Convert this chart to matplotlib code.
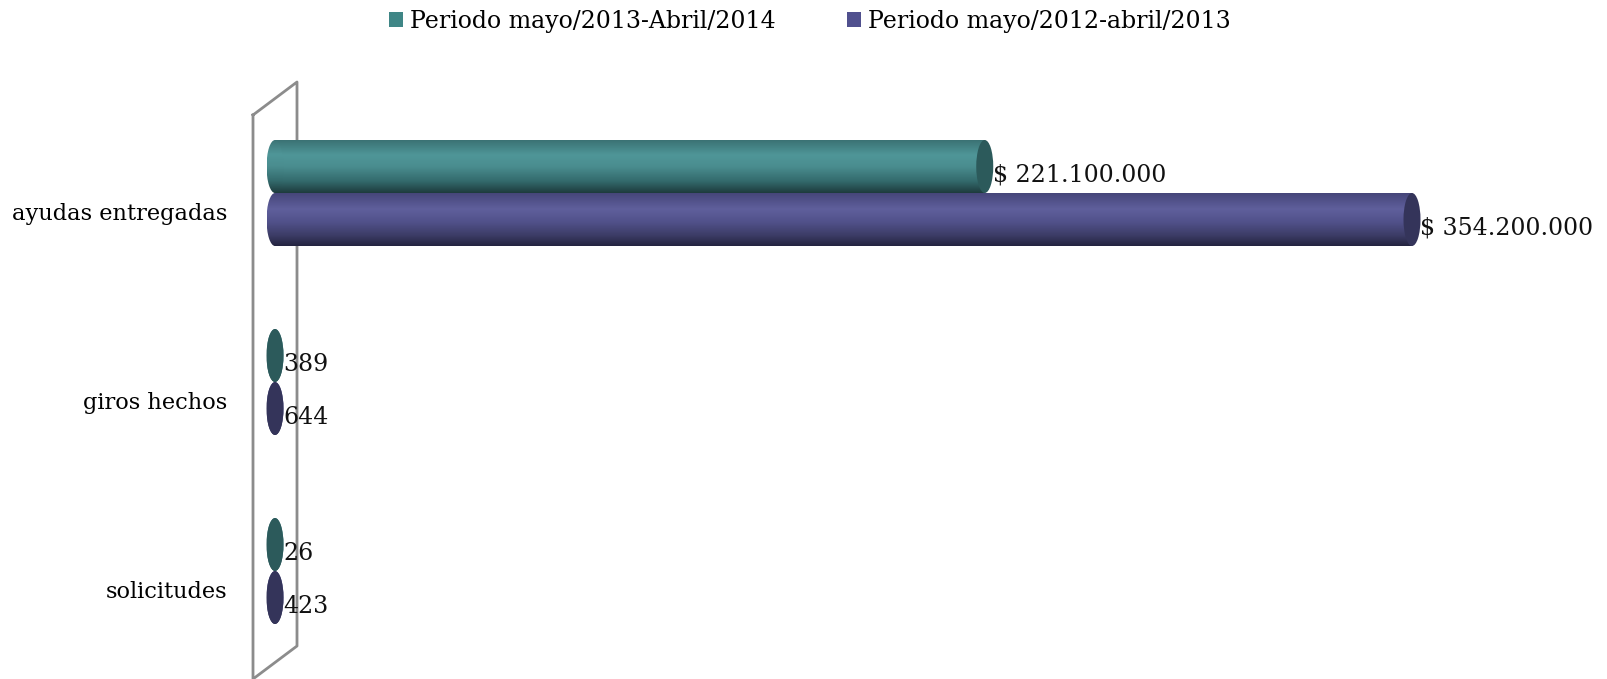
import numpy as np
import matplotlib.pyplot as plt
from matplotlib.patches import Rectangle, Ellipse, Patch
from matplotlib.colors import LinearSegmentedColormap
from matplotlib.lines import Line2D

categorias = ["ayudas entregadas", "giros hechos", "solicitudes"]
series = ["Periodo mayo/2013-Abril/2014", "Periodo mayo/2012-abril/2013"]
valores_2013 = [221100000, 389, 26]
valores_2012 = [354200000, 644, 423]
prefijos = ["$ ", "", ""]

plt.rcParams['font.family'] = ['DejaVu Serif']

W, H = 1607, 679
fig = plt.figure(figsize=(W / 100, H / 100), dpi=100)
ax = fig.add_axes([240 / W, 0, (1500 - 240) / W, (679 - 60) / H])
ax.patch.set_visible(False)

vmax = max(valores_2012 + valores_2013)
ppu = 1137 / vmax          # pixels per unit
cat_px = 189               # pixels per category
ew = 17 / ppu              # ellipse width in data units
bh = 53 / cat_px           # bar height in category units

cmaps = [
    LinearSegmentedColormap.from_list("t", [(0, "#3b7274"), (0.28, "#4f9698"), (0.5, "#4a8d8f"),
                                            (0.78, "#336a6c"), (1, "#1e3b3d")]),
    LinearSegmentedColormap.from_list("p", [(0, "#46467a"), (0.3, "#5f5f9c"), (0.55, "#51518a"),
                                            (0.8, "#3c3c66"), (1, "#242440")]),
]
caps = ["#2c5a5b", "#34345a"]
legend_cols = ["#3f8686", "#50508e"]
grad = np.linspace(0, 1, 200).reshape(-1, 1)

def cylinder(v, yc, k):
    y0, y1 = yc - bh / 2, yc + bh / 2
    rect = Rectangle((0, y0), v, bh, transform=ax.transData)
    im = ax.imshow(grad, cmap=cmaps[k], extent=(0, max(v, 1), y1, y0), origin='upper',
                   aspect='auto', interpolation='bilinear', zorder=2)
    im.set_clip_path(rect)
    left = Ellipse((0, yc), ew, bh, transform=ax.transData)
    im2 = ax.imshow(grad, cmap=cmaps[k], extent=(-ew / 2, ew / 2, y1, y0), origin='upper',
                    aspect='auto', interpolation='bilinear', zorder=2)
    im2.set_clip_path(left)
    ax.add_patch(Ellipse((v, yc), ew, bh, fc=caps[k], ec='none', zorder=3))

for i, cat in enumerate(categorias):
    for k, vals in enumerate([valores_2013, valores_2012]):
        yc = i + (k - 0.5) * bh
        v = vals[i]
        cylinder(v, yc, k)
        txt = prefijos[i] + f"{v:,}".replace(",", ".")
        ax.text(v + ew / 2, yc + 0.045, txt, ha='left', va='center', fontsize=17,
                color='#111111', zorder=4)

ax.set_xlim(-(275 - 240) / ppu, (1500 - 275) / ppu)
ax.set_ylim(2 + (679 - 571) / cat_px, -(193 - 60) / cat_px)
ax.set_yticks(np.arange(len(categorias)) + 0.1)
ax.set_yticklabels(categorias, fontsize=16.2)
ax.tick_params(axis='y', length=0, pad=9)
ax.set_xticks([])
for s in ax.spines.values():
    s.set_visible(False)

# back wall outline
pts = np.array([(253, 115), (297, 82), (297, 646), (253, 679), (253, 115)], dtype=float)
fig.add_artist(Line2D(pts[:, 0] / W, 1 - pts[:, 1] / H, transform=fig.transFigure,
                      color='#8c8c8c', lw=2, zorder=-1))

handles = [Patch(fc=legend_cols[0], ec='none'), Patch(fc=legend_cols[1], ec='none')]
fig.legend(handles, series, loc='upper center', bbox_to_anchor=(810 / W, 1 + 4 / H), ncol=2,
           frameon=False, fontsize=17, handlelength=0.6, handleheight=0.6,
           handletextpad=0.3, columnspacing=3.0, borderaxespad=0.2)

fig.savefig("out.png", dpi=100)
